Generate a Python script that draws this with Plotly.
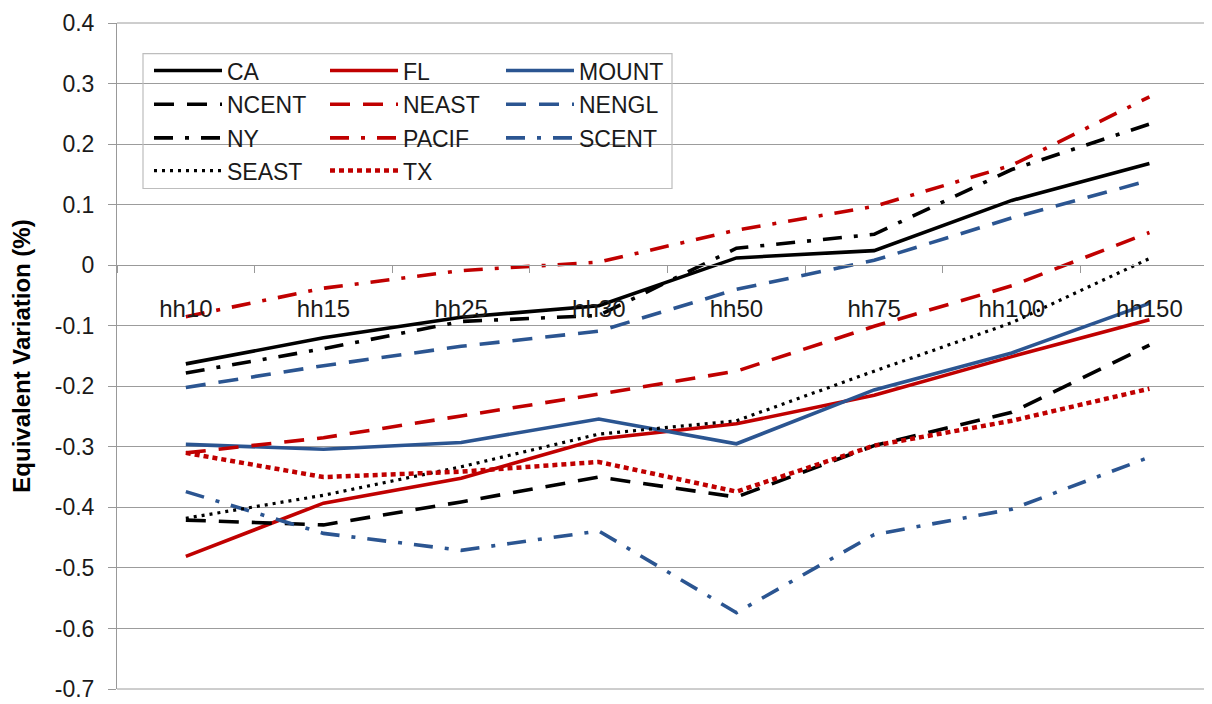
import plotly.graph_objects as go

categories = ["hh10", "hh15", "hh25", "hh30", "hh50", "hh75", "hh100", "hh150"]

CA = [-0.163, -0.120, -0.086, -0.067, 0.012, 0.024, 0.107, 0.168]
FL = [-0.481, -0.393, -0.352, -0.287, -0.262, -0.215, -0.151, -0.090]
MOUNT = [-0.296, -0.304, -0.293, -0.254, -0.295, -0.206, -0.145, -0.063]
NCENT = [-0.421, -0.429, -0.391, -0.350, -0.383, -0.298, -0.243, -0.132]
NEAST = [-0.310, -0.285, -0.249, -0.213, -0.175, -0.101, -0.034, 0.054]
NENGL = [-0.202, -0.166, -0.134, -0.109, -0.040, 0.008, 0.078, 0.140]
NY = [-0.178, -0.138, -0.093, -0.083, 0.028, 0.051, 0.158, 0.233]
PACIF = [-0.085, -0.038, -0.009, 0.005, 0.058, 0.097, 0.165, 0.278]
SCENT = [-0.374, -0.443, -0.471, -0.439, -0.574, -0.445, -0.403, -0.317]
SEAST = [-0.418, -0.380, -0.333, -0.279, -0.257, -0.175, -0.095, 0.011]
TX = [-0.310, -0.350, -0.341, -0.325, -0.374, -0.298, -0.257, -0.204]

y_tick_vals = [0.4, 0.3, 0.2, 0.1, 0.0, -0.1, -0.2, -0.3, -0.4, -0.5, -0.6, -0.7]
y_tick_text = ["0.4", "0.3", "0.2", "0.1", "0", "-0.1", "-0.2", "-0.3", "-0.4", "-0.5", "-0.6", "-0.7"]

BLACK = "#000000"
RED = "#C00000"
BLUE = "#2B5591"
DASH = "20px,13px"
DASHDOT = "19px,12px,4px,12px"

series = [
    ("CA", CA, BLACK, "solid", 3.6, "legend"),
    ("FL", FL, RED, "solid", 3.6, "legend"),
    ("MOUNT", MOUNT, BLUE, "solid", 3.6, "legend"),
    ("NCENT", NCENT, BLACK, DASH, 3.6, "legend2"),
    ("NEAST", NEAST, RED, DASH, 3.6, "legend2"),
    ("NENGL", NENGL, BLUE, DASH, 3.6, "legend2"),
    ("NY", NY, BLACK, DASHDOT, 3.6, "legend3"),
    ("PACIF", PACIF, RED, DASHDOT, 3.6, "legend3"),
    ("SCENT", SCENT, BLUE, DASHDOT, 3.6, "legend3"),
    ("SEAST", SEAST, BLACK, "3px,5px", 3.2, "legend4"),
    ("TX", TX, RED, "5px,4px", 4.5, "legend4"),
]

fig = go.Figure()
for name, vals, color, dash, w, lg in series:
    fig.add_trace(go.Scatter(
        x=categories, y=vals, name=name, mode="lines",
        line=dict(color=color, width=w, dash=dash),
        legend=lg,
    ))

FONT = "Liberation Sans"
OFF = 8  # page body margin
W, H = 1204, 696
ML, MR, MT, MB = 109, 2, 12, 12
PW = W - ML - MR
PH = H - MT - MB


def px_x(p):
    return (p - OFF - ML) / PW


def px_y(p):
    return (H - MB - (p - OFF)) / PH


legend_common = dict(
    orientation="h", xanchor="left", yanchor="middle",
    bgcolor="rgba(0,0,0,0)", borderwidth=0,
    font=dict(family=FONT, size=23, color="#1a1a1a"),
    entrywidth=93, entrywidthmode="pixels", itemwidth=68,
    itemclick=False, itemdoubleclick=False,
)
rows_px = [68, 102, 136, 169]
legends = {}
for key, rp in zip(["legend", "legend2", "legend3", "legend4"], rows_px):
    legends[key] = dict(legend_common, x=px_x(149), y=px_y(rp))

fig.update_layout(
    width=W, height=H,
    margin=dict(l=ML, r=MR, t=MT, b=MB),
    paper_bgcolor="white", plot_bgcolor="white",
    font=dict(family=FONT, size=23, color="#1a1a1a"),
    showlegend=True,
    **legends,
    xaxis=dict(
        type="category", categoryorder="array", categoryarray=categories,
        anchor="free", position=0.7 / 1.1,
        showline=True, linecolor="#999999", linewidth=1,
        showgrid=False, zeroline=False,
        ticks="outside", tickson="boundaries", ticklen=7, tickcolor="#999999",
        ticklabelstandoff=22,
        tickfont=dict(family=FONT, size=24, color="#1a1a1a"),
        range=[-0.5, 7.44],
    ),
    yaxis=dict(
        range=[-0.7, 0.4],
        tickvals=y_tick_vals, ticktext=y_tick_text,
        showgrid=True, gridcolor="#9c9c9c", gridwidth=1,
        zeroline=False,
        showline=True, linecolor="#999999", linewidth=1,
        ticks="outside", ticklen=8, tickcolor="#999999",
        ticklabelstandoff=9, ticklabeloverflow="allow",
        tickfont=dict(family=FONT, size=23, color="#1a1a1a"),
        title=dict(text="<b>Equivalent Variation (%)</b>", standoff=22,
                   font=dict(family=FONT, size=24, color="#000000")),
    ),
    shapes=[dict(
        type="rect", xref="paper", yref="paper",
        x0=px_x(143), x1=px_x(672), y0=px_y(187), y1=px_y(51),
        line=dict(color="#BDBDBD", width=1.2), fillcolor="rgba(0,0,0,0)",
        layer="above",
    ), dict(
        type="line", xref="paper", yref="paper",
        x0=0, x1=1, y0=1, y1=1,
        line=dict(color="#9c9c9c", width=1), layer="below",
    ), dict(
        type="line", xref="paper", yref="paper",
        x0=0, x1=1, y0=0, y1=0,
        line=dict(color="#9c9c9c", width=1), layer="below",
    )],
)

fig.write_html("out.html")
